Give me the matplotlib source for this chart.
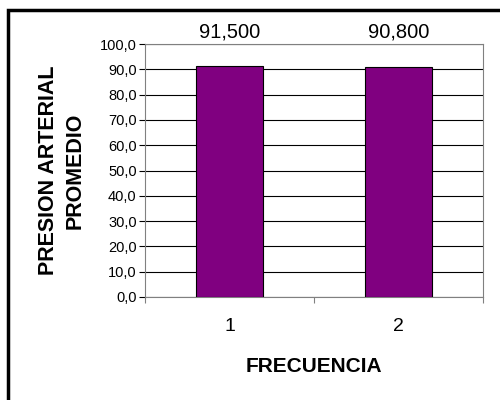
import matplotlib
matplotlib.use('Agg')
import matplotlib.pyplot as plt
from matplotlib.patches import Rectangle
from matplotlib.ticker import FuncFormatter

categories = ['1', '2']
valores = [91.5, 90.8]
etiquetas = ['91,500', '90,800']

plt.rcParams['font.family'] = ['Liberation Sans', 'DejaVu Sans']

fig = plt.figure(figsize=(5, 4), dpi=100)
W, H = 500, 400
ax = fig.add_axes([145 / W, 1 - 297 / H, (483 - 145) / W, (297 - 44) / H])

# marco exterior
fig.patches.append(Rectangle((8 / W, -0.1), 1.2, 1 - 10 / H + 0.1,
                             transform=fig.transFigure, fill=False,
                             edgecolor='black', linewidth=2.5))

pos = [0.5, 1.5]
ax.bar(pos, valores, width=0.4, color='#800080', edgecolor='black', linewidth=0.8, zorder=3)
ax.set_xlim(0, 2)
ax.set_ylim(0, 100)
ax.set_yticks(range(0, 101, 10))
ax.yaxis.set_major_formatter(FuncFormatter(lambda v, p: f'{v:.1f}'.replace('.', ',')))
ax.set_xticks([0, 1, 2])
ax.set_xticklabels([])
ax.set_xticks(pos, minor=True)
ax.set_xticklabels(categories, minor=True, fontsize=14)
ax.tick_params(axis='x', which='minor', length=0, pad=15)
ax.tick_params(axis='x', which='major', length=4, direction='out', color='#808080')
ax.tick_params(axis='y', length=4, direction='out', labelsize=10.5, pad=2)

ax.grid(axis='y', color='black', linewidth=0.8, zorder=0)
for s in ['top', 'right', 'left', 'bottom']:
    ax.spines[s].set_color('#808080')

for x, v, t in zip(pos, valores, etiquetas):
    ax.text(x, 100.8, t, ha='center', va='bottom', fontsize=14.5, clip_on=False)

ax.set_xlabel('FRECUENCIA', fontsize=15, fontweight='bold', labelpad=16)
ax.set_ylabel('PRESION ARTERIAL\nPROMEDIO', fontsize=15.5, fontweight='bold', labelpad=10,
              linespacing=1.35)

fig.savefig('out.png', dpi=100)
